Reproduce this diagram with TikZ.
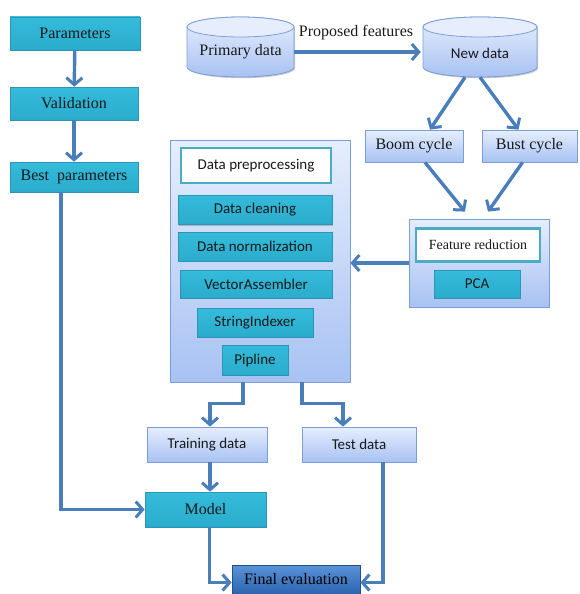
\documentclass[tikz,border=0pt]{standalone}
\usepackage{fontspec}
\setmainfont{Liberation Serif}
\newfontfamily\calib{Carlito}
\usetikzlibrary{arrows.meta,shadows,calc}
\definecolor{arrowc}{HTML}{4A7EBB}
\definecolor{tealedge}{HTML}{2A95B5}
\definecolor{lighttop}{HTML}{E6EEFE}
\definecolor{lightbot}{HTML}{A8C2F2}
\definecolor{lightborder}{HTML}{7C9ED6}
\definecolor{tealborder}{HTML}{4BACC6}
\definecolor{fetop}{HTML}{5A93D8}
\definecolor{febot}{HTML}{2C64B0}
\definecolor{tA}{HTML}{1A7F9E}
\definecolor{tB}{HTML}{2398B9}
\definecolor{tC}{HTML}{2CAECE}
\definecolor{tD}{HTML}{33B9D9}
\definecolor{tE}{HTML}{4AC6E2}
\definecolor{tF}{HTML}{8ADFF2}
\pgfdeclareverticalshading{tealshade}{100bp}{
  color(0bp)=(tA); color(10bp)=(tB); color(30bp)=(tC); color(70bp)=(tD);
  color(88bp)=(tE); color(100bp)=(tF)}
\tikzset{
  shad/.style={drop shadow={shadow xshift=1.2pt,shadow yshift=-1.2pt,opacity=0.35,fill=black!60}},
  tealbox/.style={draw=tealedge, line width=0.6pt, shading=tealshade, text=black!90, inner sep=0pt, shad, font=\fontsize{16}{18}\selectfont},
  tealcal/.style={tealbox, font=\calib\fontsize{15}{17}\selectfont},
  lightbox/.style={draw=lightborder, line width=0.8pt, top color=lighttop, bottom color=lightbot, text=black!90, inner sep=0pt, shad, font=\fontsize{16}{18}\selectfont},
  lightcal/.style={lightbox, font=\calib\fontsize{15}{17}\selectfont},
  container/.style={draw=lightborder, line width=0.8pt, top color=lighttop, bottom color=lightbot, inner sep=0pt, shad},
  whitebox/.style={draw=tealborder, line width=2.4pt, fill=white, text=black!90, inner sep=0pt},
  febox/.style={draw=febot!80!black, line width=0.8pt, top color=fetop, bottom color=febot, text=black, inner sep=0pt, shad, font=\fontsize{16}{18}\selectfont},
  cylbody/.style={draw=lightborder, line width=0.8pt, top color=lighttop, bottom color=lightbot},
  cyltop/.style={draw=lightborder, line width=0.8pt, fill=lighttop},
  arr/.style={draw=arrowc, line width=3.4pt, -{Straight Barb[length=7pt,width=16pt,line width=3pt]}},
}
\begin{document}
\begin{tikzpicture}[x=1pt,y=1pt]
\useasboundingbox (0,0) rectangle (579,-594);
% left column
\node[tealbox, minimum width=130pt, minimum height=33pt] (par) at (75,-33.5) {Parameters};
\node[tealbox, minimum width=128pt, minimum height=33pt] (val) at (74,-103.5) {Validation};
\node[tealbox, minimum width=128pt, minimum height=30pt] (bp) at (74,-177) {Best\ \ parameters};
% cylinders
\path[cylbody, shad] (187,-27) -- (187,-67) arc[start angle=180,end angle=360,x radius=53.5pt,y radius=10pt] -- (294,-27) arc[start angle=0,end angle=180,x radius=53.5pt,y radius=10pt] -- cycle;
\path[cyltop] (240.5,-27) ellipse[x radius=53.5pt,y radius=10pt];
\node[minimum width=107pt, minimum height=60pt, inner sep=0pt] (pd) at (240.5,-47) {};
\node[font=\fontsize{16}{18}\selectfont, text=black!90] (pdt) at (240.5,-52) {Primary data};
\path[cylbody, shad] (423,-27) -- (423,-67) arc[start angle=180,end angle=360,x radius=57pt,y radius=10pt] -- (537,-27) arc[start angle=0,end angle=180,x radius=57pt,y radius=10pt] -- cycle;
\path[cyltop] (480,-27) ellipse[x radius=57pt,y radius=10pt];
\node[minimum width=114pt, minimum height=60pt, inner sep=0pt] (nd) at (480,-47) {};
\node[font=\calib\fontsize{15}{17}\selectfont, text=black!90] (ndt) at (480,-53) {New data};
\node[font=\fontsize{16}{18}\selectfont, text=black!90] (pf) at (356,-33) {Proposed features};
% cycles
\node[lightbox, minimum width=98pt, minimum height=32pt] (boom) at (414,-146) {Boom cycle};
\node[lightbox, minimum width=95pt, minimum height=32pt] (bust) at (529.5,-146) {Bust cycle};
% feature reduction
\node[container, minimum width=140pt, minimum height=88pt] (frbox) at (479,-263) {};
\node[whitebox, minimum width=124pt, minimum height=33pt, font=\fontsize{14}{16}\selectfont] (frl) at (478,-245) {Feature reduction};
\node[tealcal, minimum width=86pt, minimum height=28pt] (pca) at (477,-284) {PCA};
% preprocessing
\node[container, minimum width=180pt, minimum height=242pt] (ppbox) at (260,-261) {};
\node[whitebox, minimum width=150pt, minimum height=35pt, font=\calib\fontsize{15}{17}\selectfont] (ppl) at (256,-165.5) {Data preprocessing};
\node[tealcal, minimum width=154pt, minimum height=29pt] (dc) at (255,-210) {Data cleaning};
\node[tealcal, minimum width=154pt, minimum height=29pt] (dn) at (255,-246.5) {Data normalization};
\node[tealcal, minimum width=152pt, minimum height=28pt] (va) at (256,-284) {VectorAssembler};
\node[tealcal, minimum width=116pt, minimum height=29pt] (si) at (255,-322.5) {StringIndexer};
\node[tealcal, minimum width=66pt, minimum height=30pt] (pip) at (255,-360) {Pipline};
% bottom
\node[lightcal, minimum width=120pt, minimum height=35pt] (td) at (207,-444.5) {Training data};
\node[lightcal, minimum width=114pt, minimum height=35pt] (ted) at (359,-444.5) {Test data};
\node[tealbox, minimum width=121pt, minimum height=35pt] (model) at (205.5,-509.5) {Model};
\node[febox, minimum width=128pt, minimum height=29pt] (fe) at (296,-579.5) {Final evaluation};
% connectors
\draw[arr] (par) -- (val);
\draw[arr] (val) -- (bp);
\draw[arr] ([yshift=-5pt]pd.east) -- ([yshift=-5pt,xshift=-2pt]nd.west);
\draw[arr] ([xshift=-15pt]nd.south) -- ([xshift=16pt]boom.north);
\draw[arr] (nd.south) -- ([xshift=-11pt]bust.north);
\draw[arr] ([xshift=11pt]boom.south) -- ([xshift=-14pt,yshift=7pt]frbox.north);
\draw[arr] ([xshift=-7pt]bust.south) -- ([xshift=9pt,yshift=7pt]frbox.north);
\draw[arr] (frbox.west) -- (frbox.west -| ppbox.east);
\coordinate (c1) at ([xshift=-17pt,yshift=-21pt]ppbox.south);
\coordinate (c2) at ([xshift=42pt,yshift=-21pt]ppbox.south);
\draw[arr] ([xshift=-17pt]ppbox.south) -- (c1) -| ([xshift=3pt]td.north);
\draw[arr] ([xshift=42pt]ppbox.south) -- (c2) -| ([xshift=-16pt]ted.north);
\draw[arr] ([xshift=3pt]td.south) -- ([xshift=3pt]td.south |- model.north);
\draw[arr] ([xshift=-13pt]bp.south) |- (model.west);
\draw[arr] ([xshift=4pt]model.south) |- ([yshift=-3pt]fe.west);
\draw[arr] ([xshift=24pt]ted.south) |- ([yshift=-3pt]fe.east);
\end{tikzpicture}
\end{document}
